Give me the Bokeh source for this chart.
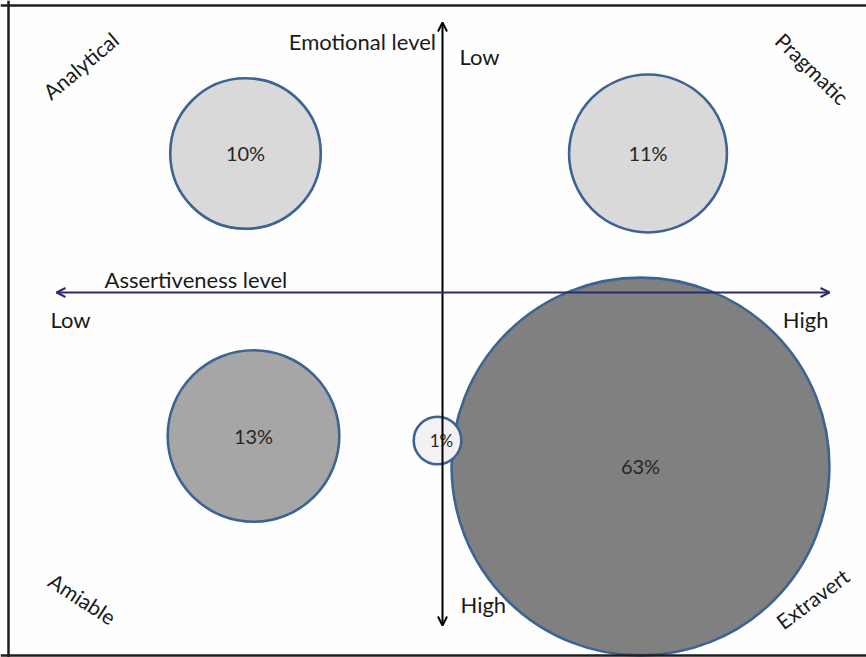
from bokeh.plotting import figure
from bokeh.models import Range1d, Label, Arrow, OpenHead, Span, ColumnDataSource
from bokeh.embed import file_html
from bokeh.resources import INLINE
import numpy as np

# Shares of respondents by social style (percent)
shares = [10, 11, 13, 63, 1]
share_labels = ["10%", "11%", "13%", "63%", "1%"]
# Bubble centres: assertiveness (x, low -> high) and emotional level (y, high -> low)
assertiveness = [-1.97, 2.055, -1.89, 1.98, -0.05]
emotional = [1.39, 1.39, -1.435, -1.74, -1.48]

# Quadrant names
quadrants = ["Analytical", "Pragmatic", "Amiable", "Extravert"]

FONT = "Lato"
TEXT = "#1a1a1a"
OUTLINE = "#3c6394"
fills = ["#d9d9d9", "#d9d9d9", "#a6a6a6", "#808080", "#f2f2f2"]

# bubble area proportional to share
K = 0.238
radii = [K * np.sqrt(s) for s in shares]

p = figure(width=866, height=657, output_backend="svg", toolbar_location=None,
           x_range=Range1d(-4.42, 4.24), y_range=Range1d(-3.65, 2.92),
           min_border=0, background_fill_color="#fefefe", border_fill_color="#fefefe")
p.axis.visible = False
p.grid.visible = False
p.outline_line_color = None

src = ColumnDataSource(dict(x=assertiveness, y=emotional, r=radii, fill=fills))
p.circle(x="x", y="y", radius="r", source=src, fill_color="fill",
         line_color=OUTLINE, line_width=2.6)

for x, y, t in zip(assertiveness, emotional, share_labels):
    small = t == "1%"
    p.add_layout(Label(x=x + (0.04 if small else 0), y=y + 0.005, text=t,
                       text_align="center", text_baseline="middle",
                       text_font=FONT, text_font_size="17px" if small else "20px",
                       text_color="#262626"))

# frame (left, top, bottom edges)
for loc, dim in [(-4.34, "height"), (2.87, "width"), (-3.63, "width")]:
    p.add_layout(Span(location=loc, dimension=dim, line_color="#1f1f1f", line_width=2.5))

# axis arrows
p.add_layout(Arrow(x_start=0.0, y_start=-3.33, x_end=0.0, y_end=2.70,
                   start=OpenHead(size=9, line_width=2, line_color="black"),
                   end=OpenHead(size=9, line_width=2, line_color="black"),
                   line_color="black", line_width=2))
NAVY = "#2b2d6b"
p.add_layout(Arrow(x_start=-3.86, y_start=0.0, x_end=3.87, y_end=0.0,
                   start=OpenHead(size=9, line_width=2, line_color=NAVY),
                   end=OpenHead(size=9, line_width=2, line_color=NAVY),
                   line_color=NAVY, line_width=2))

def lab(x, y, t, align="left", angle=0, size="22px"):
    p.add_layout(Label(x=x, y=y, text=t, text_align=align, text_baseline="middle",
                       angle=angle, angle_units="deg", text_font=FONT,
                       text_font_size=size, text_color=TEXT))

lab(-0.065, 2.51, "Emotional level", align="right")
lab(0.17, 2.36, "Low")
lab(0.18, -3.12, "High")
lab(-3.38, 0.135, "Assertiveness level")
lab(-3.92, -0.27, "Low")
lab(3.86, -0.27, "High", align="right")

quad_pos = [(-3.62, 2.27, 40), (3.70, 2.24, -44), (-3.60, -3.06, -33), (3.70, -3.06, 37)]
for name, (x, y, a) in zip(quadrants, quad_pos):
    lab(x, y, name, align="center", angle=a, size="21px")

open("out.html", "w").write(file_html(p, INLINE))
